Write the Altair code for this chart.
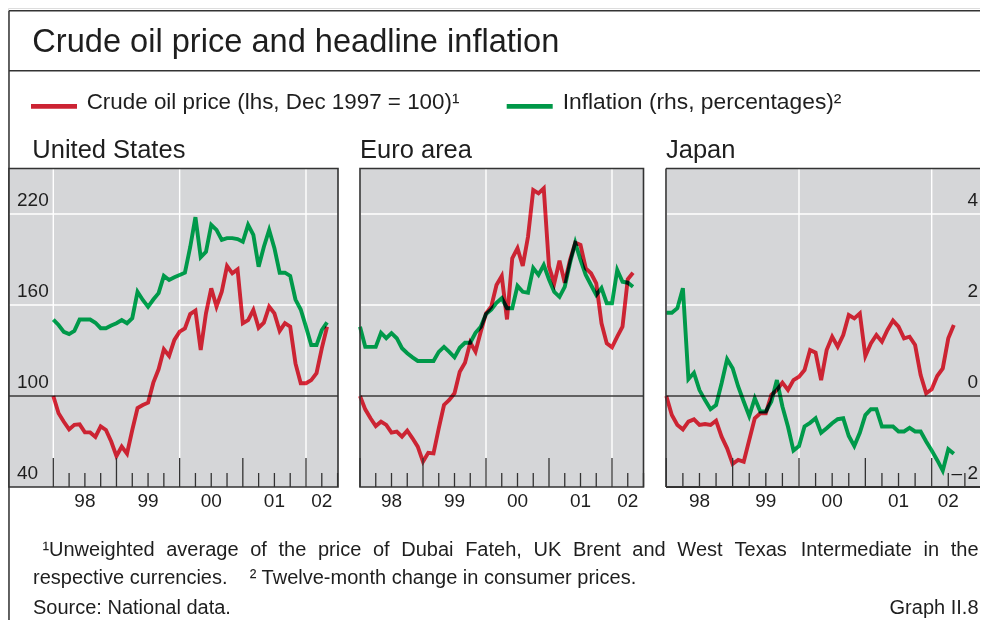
import altair as alt
import pandas as pd

# ---------------- data ----------------
MONTHS = pd.period_range("1997-12", "2002-04", freq="M").strftime("%Y-%m").tolist()

US_OIL = [100, 88.6, 83, 78, 81, 81.3, 76, 76, 73, 80, 77.6, 70, 60.4, 66.6, 62, 77.6, 92, 94,
          95.6, 108.8, 117.6, 130.8, 126.4, 137, 142.4, 144.6, 154, 156.3, 130.3, 154.5, 171, 159,
          168.8, 185.7, 180.9, 183.5, 147.9, 150, 156.7, 145, 148.4, 158.9, 154.5, 142.9, 148,
          145.7, 121.5, 108.4, 108.4, 110.5, 115, 131.4, 145.7]
US_INF = [1.68, 1.56, 1.41, 1.36, 1.43, 1.68, 1.68, 1.68, 1.61, 1.49, 1.49, 1.55, 1.60, 1.67,
          1.60, 1.71, 2.29, 2.11, 1.96, 2.12, 2.26, 2.64, 2.55, 2.61, 2.66, 2.71, 3.27, 3.93, 3.05,
          3.17, 3.76, 3.65, 3.43, 3.47, 3.47, 3.45, 3.39, 3.76, 3.54, 2.84, 3.28, 3.65, 3.25, 2.71,
          2.71, 2.64, 2.12, 1.90, 1.52, 1.12, 1.12, 1.45, 1.62]
EA_OIL = [100, 91.2, 85.3, 80.2, 83.1, 80.9, 75.8, 76.5, 73.2, 77.1, 72.1, 66.6, 56.7, 62.6,
          62.2, 78.7, 94.1, 97.4, 101.8, 116, 122, 135.2, 129.2, 142.4, 154.5, 158.9, 173.2,
          179.1, 150.5, 190.8, 197.4, 185.7, 205, 235.8, 233.6, 236.9, 185.3, 174.3, 189.2, 174.7,
          189.7, 201.1, 199.6, 184.2, 180.9, 174.3, 147.9, 134.7, 132.1, 139.1, 145.7, 176.9, 181.3]
EA_INF = [1.52, 1.08, 1.08, 1.08, 1.39, 1.27, 1.38, 1.27, 1.05, 0.94, 0.85, 0.77, 0.77, 0.77,
          0.77, 0.97, 1.08, 0.97, 0.85, 1.06, 1.17, 1.17, 1.39, 1.52, 1.80, 1.90, 2.05, 2.15, 1.93,
          1.93, 2.42, 2.29, 2.27, 2.81, 2.66, 2.88, 2.56, 2.29, 2.18, 2.40, 2.92, 3.37, 2.99, 2.66,
          2.44, 2.22, 2.37, 2.04, 2.04, 2.77, 2.51, 2.49, 2.40]
JP_OIL = [100, 87.5, 80.9, 78, 83.1, 84.6, 80.9, 81.5, 80.9, 83.7, 73.2, 65.5, 55.2, 57.8, 56.7,
          71, 85.3, 88.6, 88.6, 100.7, 104, 108.8, 104, 110.5, 112.7, 117.1, 130.3, 128.6, 110.5,
          130.3, 139.1, 132.5, 140.2, 153.4, 151.2, 154.5, 126.4, 134.7, 140.2, 135.8, 143.5,
          149.7, 145.7, 138, 139.1, 133.6, 113.8, 101.8, 104.4, 113.2, 118.2, 138, 146.8]
JP_INF = [1.83, 1.83, 1.93, 2.37, 0.37, 0.51, 0.13, -0.09, -0.29, -0.20, 0.28, 0.81, 0.61, 0.21,
          -0.12, -0.44, -0.05, -0.34, -0.34, -0.12, 0.35, -0.23, -0.67, -1.20, -1.10, -0.67, -0.59,
          -0.49, -0.81, -0.71, -0.60, -0.51, -0.49, -0.88, -1.10, -0.81, -0.42, -0.29, -0.29, -0.67,
          -0.67, -0.67, -0.78, -0.78, -0.70, -0.78, -0.78, -1.00, -1.20, -1.41, -1.64, -1.17, -1.27]

PANEL_NAMES = ["United States", "Euro area", "Japan"]
LHS_TICKS = [40, 100, 160, 220]
LHS_LABELS = ["40", "100", "160", "220"]
RHS_TICKS = [-2, 0, 2, 4]
RHS_LABELS = ["\u2013 2", "0", "2", "4"]
WHITE_LHS = [160, 220]
ZERO_LHS = [100]
YEAR_STARTS = [1998, 1999, 2000, 2001, 2002]
QUARTER_TICKS = [1998.25, 1998.5, 1998.75, 1999.25, 1999.5, 1999.75, 2000.25, 2000.5, 2000.75,
                 2001.25, 2001.5, 2001.75, 2002.25, 2002.5]
GRID_YEARS = [1998, 2000, 2002]
YEAR_LABELS = ["98", "99", "00", "01", "02"]
YEAR_LABEL_AT = [1998.5, 1999.5, 2000.5, 2001.5, 2002.25]

TITLE = "Crude oil price and headline inflation"
LEG_OIL = "Crude oil price (lhs, Dec 1997 = 100)\u00b9"
LEG_INF = "Inflation (rhs, percentages)\u00b2"
NOTE1_WORDS = ["Unweighted", "average", "of", "the", "price", "of", "Dubai", "Fateh,", "UK",
               "Brent", "and", "West", "Texas", "Intermediate", "in", "the"]
NOTE2 = "respective currencies.\u00a0\u00a0\u00a0\u00a0\u00b2 Twelve-month change in consumer prices."
SOURCE = "Source: National data."
GRAPH_NO = "Graph II.8"

# ---------------- style / layout ----------------
FONT = "Liberation Sans, Arial, Helvetica, sans-serif"
TXT = "#1e1e1e"
FRAME = "#333333"
BG = "#d5d6d8"
RED_LEG, GREEN_LEG = "#cc2333", "#009848"
RED_LINE, GREEN_LINE = "#f42a3c", "#00b657"   # multiplied on grey -> printed colours
W, H = 972, 612
TOP, BOT = 160.5, 479.0

OIL_SC = alt.Scale(domain=[40, 250], range=[BOT, TOP], nice=False, zero=False)
INF_SC = alt.Scale(domain=[-2, 5], range=[BOT, TOP], nice=False, zero=False)

ONE = pd.DataFrame({"k": [0]})
T = [int(m[:4]) + int(m[5:]) / 12 for m in MONTHS]


def text_at(s, x, y, size, align="left", color=TXT):
    return alt.Chart(ONE).mark_text(text=s, align=align, baseline="alphabetic", fontSize=size,
                                    font=FONT, color=color).encode(x=alt.value(x), y=alt.value(y))


def rect_at(x0, x1, y0, y1, **kw):
    return alt.Chart(ONE).mark_rect(**kw).encode(x=alt.value(x0), x2=alt.value(x1),
                                                 y=alt.value(y0), y2=alt.value(y1))


def hrule(x0, x1, y, color, w):
    return alt.Chart(ONE).mark_rule(color=color, strokeWidth=w).encode(
        x=alt.value(x0), x2=alt.value(x1), y=alt.value(y))


def vrule(x, y0, y1, color, w):
    return alt.Chart(ONE).mark_rule(color=color, strokeWidth=w).encode(
        x=alt.value(x), y=alt.value(y0), y2=alt.value(y1))


def panel(oil, inf, x0, x1, xr, side):
    xsc = alt.Scale(domain=[1998, 2002], range=list(xr), nice=False, zero=False)
    df = pd.DataFrame({"t": T, "oil": oil, "inf": inf})
    X = alt.X("t:Q", scale=xsc, axis=None)
    L = [rect_at(x0, x1, TOP, BOT, color=BG)]
    L.append(alt.Chart(pd.DataFrame({"t": GRID_YEARS})).mark_rule(color="white", strokeWidth=1.4)
             .encode(x=X, y=alt.value(TOP), y2=alt.value(BOT)))
    L.append(alt.Chart(pd.DataFrame({"v": WHITE_LHS})).mark_rule(color="white", strokeWidth=1.4)
             .encode(y=alt.Y("v:Q", scale=OIL_SC, axis=None), x=alt.value(x0), x2=alt.value(x1)))
    L.append(alt.Chart(pd.DataFrame({"v": ZERO_LHS})).mark_rule(color="#3a3a3a", strokeWidth=1.3)
             .encode(y=alt.Y("v:Q", scale=OIL_SC, axis=None), x=alt.value(x0), x2=alt.value(x1)))
    L.append(alt.Chart(df).mark_line(color=RED_LINE, strokeWidth=3.9, blend="multiply",
                                     strokeJoin="miter")
             .encode(x=X, y=alt.Y("oil:Q", scale=OIL_SC, axis=None)))
    L.append(alt.Chart(df).mark_line(color=GREEN_LINE, strokeWidth=3.9, blend="multiply",
                                     strokeJoin="miter")
             .encode(x=X, y=alt.Y("inf:Q", scale=INF_SC, axis=None)))
    L.append(alt.Chart(pd.DataFrame({"t": YEAR_STARTS})).mark_rule(color=FRAME, strokeWidth=1.3)
             .encode(x=X, y=alt.value(BOT - 29), y2=alt.value(BOT)))
    L.append(alt.Chart(pd.DataFrame({"t": QUARTER_TICKS})).mark_rule(color=FRAME, strokeWidth=1.3)
             .encode(x=X, y=alt.value(BOT - 14), y2=alt.value(BOT)))
    L.append(alt.Chart(pd.DataFrame({"t": YEAR_LABEL_AT, "lab": YEAR_LABELS}))
             .mark_text(font=FONT, fontSize=19, color=TXT, baseline="alphabetic", align="center")
             .encode(x=X, y=alt.value(BOT + 20), text="lab:N"))
    if side == "left":
        L.append(alt.Chart(pd.DataFrame({"v": LHS_TICKS, "lab": LHS_LABELS}))
                 .mark_text(font=FONT, fontSize=19, color=TXT, baseline="alphabetic",
                            align="left", dy=-8)
                 .encode(y=alt.Y("v:Q", scale=OIL_SC, axis=None), x=alt.value(x0 + 8),
                         text="lab:N"))
    if side == "right":
        L.append(alt.Chart(pd.DataFrame({"v": RHS_TICKS, "lab": RHS_LABELS}))
                 .mark_text(font=FONT, fontSize=19, color=TXT, baseline="alphabetic",
                            align="right", dy=-8)
                 .encode(y=alt.Y("v:Q", scale=INF_SC, axis=None), x=alt.value(W - 2),
                         text="lab:N"))
        # open frame on the right (panel runs off the page)
        L.append(hrule(x0, x1, TOP, FRAME, 1.6))
        L.append(hrule(x0, x1, BOT, FRAME, 1.8))
        L.append(vrule(x0, TOP, BOT, FRAME, 1.6))
    else:
        L.append(rect_at(x0, x1, TOP, BOT, fillOpacity=0, stroke=FRAME, strokeWidth=1.6))
    return L


layers = []
# outer frame
layers.append(vrule(1, 2.7, H, FRAME, 1.5))
layers.append(hrule(1, W, 2.7, FRAME, 1.5))
layers.append(hrule(1, W, 62.7, FRAME, 1.5))
# title and legend
layers.append(text_at(TITLE, 24.3, 44.3, 32.6))
layers.append(rect_at(23, 69, 96, 100.7, color=RED_LEG))
layers.append(text_at(LEG_OIL, 78.7, 101.3, 22.4))
layers.append(rect_at(498.7, 544.7, 96, 100.7, color=GREEN_LEG))
layers.append(text_at(LEG_INF, 554.7, 101.3, 22.8))
# panel titles
for name, x in zip(PANEL_NAMES, [24.3, 352, 658]):
    layers.append(text_at(name, x, 150.3, 25.5))
# panels
layers += panel(US_OIL, US_INF, 1, 330, (45.3, 298.0), "left")
layers += panel(EA_OIL, EA_INF, 352, 635.5, (352.0, 604.0), None)
layers += panel(JP_OIL, JP_INF, 658, W, (658.3, 923.7), "right")

# footnotes: first line justified between two edges
AW = {"U": 722, "n": 556, "w": 722, "e": 556, "i": 222, "g": 556, "h": 556, "t": 278, "d": 556,
      "a": 556, "v": 500, "r": 333, "o": 556, "f": 278, "p": 556, "c": 500, "D": 722, "u": 556,
      "b": 556, "F": 611, ",": 278, "K": 667, "B": 667, "W": 944, "T": 611, "x": 500, "s": 500,
      "I": 278, "m": 833, "l": 222}
FN = 20
widths = [sum(AW.get(c, 556) for c in wd) / 1000 * FN for wd in NOTE1_WORDS]
x_start, x_end = 41.0, W - 1.5
gap = (x_end - x_start - sum(widths)) / (len(NOTE1_WORDS) - 1)
xs, cur = [], x_start
for wdt in widths:
    xs.append(cur)
    cur += wdt + gap
layers.append(text_at("\u00b9", 34.5, 547.5, FN))
layers.append(alt.Chart(pd.DataFrame({"px": xs, "w": NOTE1_WORDS}))
              .mark_text(font=FONT, fontSize=FN, color=TXT, baseline="alphabetic", align="left")
              .encode(x=alt.X("px:Q", scale=None), y=alt.value(547.5), text="w:N"))
layers.append(text_at(NOTE2, 25, 576, FN))
layers.append(text_at(SOURCE, 25, 606, FN))
layers.append(text_at(GRAPH_NO, W - 1.5, 606, FN, align="right"))

chart = (alt.layer(*layers)
         .resolve_scale(x="independent", y="independent")
         .properties(width=W, height=H, autosize=alt.AutoSizeParams(type="none"), padding=0)
         .configure_view(stroke=None)
         .configure(background="white"))

chart.save("out.html", embed_options={"renderer": "svg", "actions": False})
